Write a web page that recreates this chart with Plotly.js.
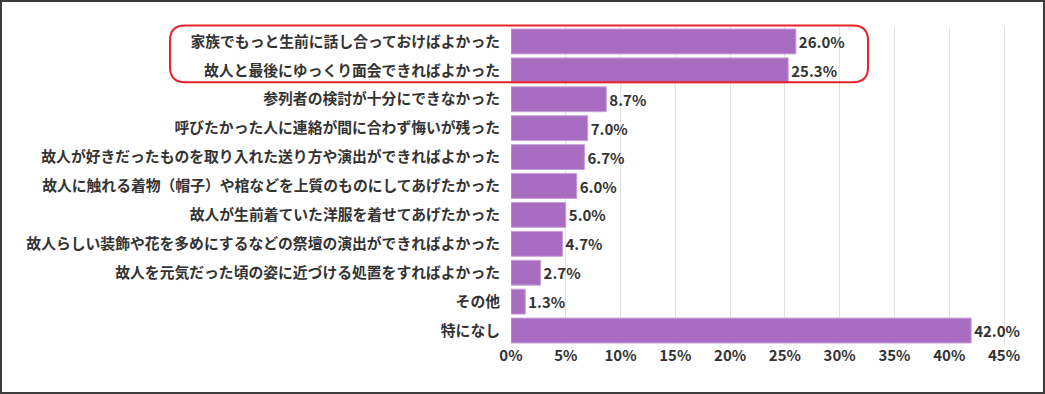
<!DOCTYPE html>
<html>
<head>
<meta charset="utf-8">
<script src="https://cdn.plot.ly/plotly-3.0.1.min.js"></script>
<style>
  html, body { margin: 0; padding: 0; background: #fff; }
  #wrap { position: relative; width: 1045px; height: 394px; }
  #chart { width: 1045px; height: 394px; }
  #frame { position: absolute; left: 0; top: 0; width: 1045px; height: 394px;
           box-sizing: border-box; border: 2px solid #3c3c3c; pointer-events: none; }
</style>
</head>
<body>
<div id="wrap"><div id="chart"></div><div id="frame"></div></div>
<script>
const categories = [
  "家族でもっと生前に話し合っておけばよかった",
  "故人と最後にゆっくり面会できればよかった",
  "参列者の検討が十分にできなかった",
  "呼びたかった人に連絡が間に合わず悔いが残った",
  "故人が好きだったものを取り入れた送り方や演出ができればよかった",
  "故人に触れる着物（帽子）や棺などを上質のものにしてあげたかった",
  "故人が生前着ていた洋服を着せてあげたかった",
  "故人らしい装飾や花を多めにするなどの祭壇の演出ができればよかった",
  "故人を元気だった頃の姿に近づける処置をすればよかった",
  "その他",
  "特になし"
];
const values = [26.0, 25.3, 8.7, 7.0, 6.7, 6.0, 5.0, 4.7, 2.7, 1.3, 42.0];
const tickVals = [0, 5, 10, 15, 20, 25, 30, 35, 40, 45];
const tickText = ["0%", "5%", "10%", "15%", "20%", "25%", "30%", "35%", "40%", "45%"];

const W = 1045, H = 394;
const M = { l: 511, r: 30, t: 26.5, b: 48.5 };
const plotW = W - M.l - M.r, plotH = H - M.t - M.b;
const font = "Noto Sans CJK JP, Noto Sans, sans-serif";

// highlight box (pixel geometry of the annotation frame, converted to paper units)
function roundedBox(px0, py0, px1, py1, r) {
  const X = p => (p - M.l) / plotW;
  const Y = p => (H - M.b - p) / plotH;
  const rx = r / plotW, ry = r / plotH;
  const x0 = X(px0), x1 = X(px1), yT = Y(py0), yB = Y(py1);
  return `M ${x0 + rx},${yT} L ${x1 - rx},${yT} Q ${x1},${yT} ${x1},${yT - ry} ` +
         `L ${x1},${yB + ry} Q ${x1},${yB} ${x1 - rx},${yB} ` +
         `L ${x0 + rx},${yB} Q ${x0},${yB} ${x0},${yB + ry} ` +
         `L ${x0},${yT - ry} Q ${x0},${yT} ${x0 + rx},${yT} Z`;
}

const trace = {
  type: "bar",
  orientation: "h",
  y: categories,
  x: values,
  marker: { color: "#a86cc1", line: { color: "#c7a0d8", width: 1 } },
  texttemplate: "%{x:.1f}%",
  textposition: "outside",
  cliponaxis: false,
  textfont: { family: font, size: 15, color: "#333333", weight: 700 },
  hoverinfo: "skip"
};

const layout = {
  width: W, height: H,
  margin: M,
  paper_bgcolor: "#ffffff",
  plot_bgcolor: "#ffffff",
  showlegend: false,
  bargap: 0.14,
  font: { family: font, color: "#333333" },
  xaxis: {
    range: [0, 46],
    tickvals: tickVals,
    ticktext: tickText,
    showgrid: true,
    gridcolor: "#e2e2e2",
    gridwidth: 1,
    zeroline: false,
    showline: false,
    ticks: "",
    tickfont: { family: font, size: 15, color: "#333333", weight: 700 },
    fixedrange: true
  },
  yaxis: {
    type: "category",
    autorange: "reversed",
    showgrid: false,
    zeroline: false,
    showline: false,
    ticks: "",
    ticklabelstandoff: 10,
    tickfont: { family: font, size: 14.8, color: "#333333", weight: 700 },
    fixedrange: true
  },
  shapes: [{
    type: "path",
    xref: "paper", yref: "paper",
    path: roundedBox(170, 25, 868, 82, 15),
    line: { color: "#e8232b", width: 2 },
    fillcolor: "rgba(0,0,0,0)",
    layer: "above"
  }]
};

Plotly.newPlot("chart", [trace], layout, { displayModeBar: false, staticPlot: true });
</script>
</body>
</html>
